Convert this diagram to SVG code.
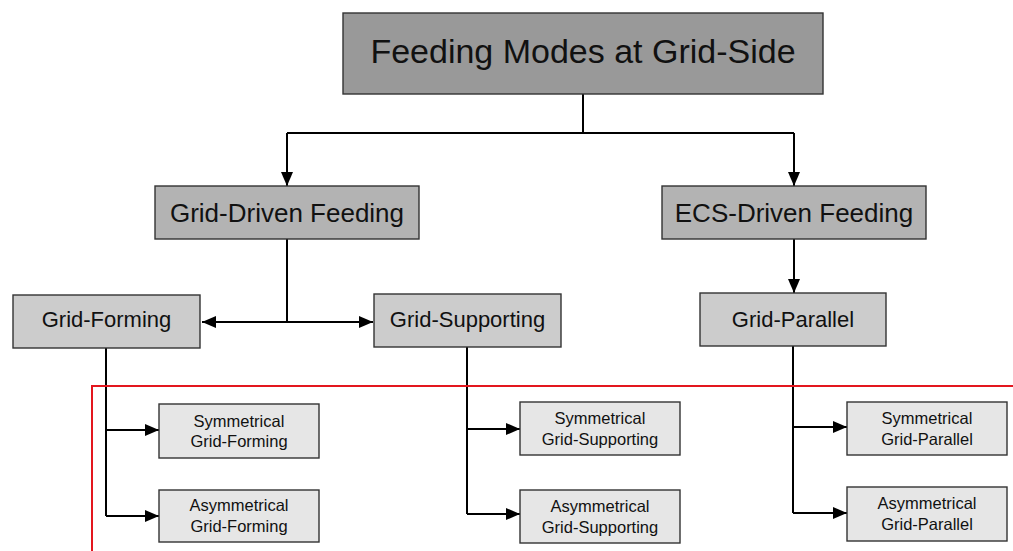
<svg xmlns="http://www.w3.org/2000/svg" width="1013" height="551" viewBox="0 0 1013 551">
<defs>
<style>
.box rect{stroke:#333;stroke-width:1.4}
.l0 rect{fill:#999999}
.l1 rect{fill:#b3b3b3}
.l2 rect{fill:#cccccc}
.l3 rect{fill:#e6e6e6}
text{font-family:"Liberation Sans",Arial,sans-serif;fill:#111;text-anchor:middle}
.t0{font-size:34px}
.t1{font-size:26px}
.t2{font-size:22px}
.t3{font-size:16.5px}
.c{fill:none;stroke:#000;stroke-width:2}
</style>
<marker id="ah" markerUnits="userSpaceOnUse" markerWidth="14" markerHeight="12" refX="14" refY="6" orient="auto">
<path d="M0,0 L14,6 L0,12 Z" fill="#000"/>
</marker>
<marker id="ahs" markerUnits="userSpaceOnUse" markerWidth="14" markerHeight="12" refX="0" refY="6" orient="auto">
<path d="M14,0 L0,6 L14,12 Z" fill="#000"/>
</marker>
</defs>
<rect width="1013" height="551" fill="#fff"/>
<g id="connectors">
<path class="c" d="M583,94 V133 M287,133 H794"/>
<path class="c" d="M287,133 V186" marker-end="url(#ah)"/>
<path class="c" d="M794,133 V186" marker-end="url(#ah)"/>
<path class="c" d="M287,239 V322"/>
<path class="c" d="M202,322 H373" marker-start="url(#ahs)" marker-end="url(#ah)"/>
<path class="c" d="M794,239 V293" marker-end="url(#ah)"/>
<path class="c" d="M106,348 V516"/>
<path class="c" d="M106,430 H159" marker-end="url(#ah)"/>
<path class="c" d="M106,516 H159" marker-end="url(#ah)"/>
<path class="c" d="M467,347 V514"/>
<path class="c" d="M467,429 H520" marker-end="url(#ah)"/>
<path class="c" d="M467,514 H520" marker-end="url(#ah)"/>
<path class="c" d="M793,346 V513"/>
<path class="c" d="M793,427 H847" marker-end="url(#ah)"/>
<path class="c" d="M793,513 H847" marker-end="url(#ah)"/>
</g>
<g id="redline">
<path d="M92,551 V386 H1013" fill="none" stroke="#e3161e" stroke-width="2"/>
</g>
<g id="root" class="box l0">
<rect x="343" y="13" width="480" height="81"/>
<text class="t0" x="583" y="63">Feeding Modes at Grid-Side</text>
</g>
<g id="grid-driven" class="box l1">
<rect x="155" y="186" width="264" height="53"/>
<text class="t1" x="287" y="222">Grid-Driven Feeding</text>
</g>
<g id="ecs-driven" class="box l1">
<rect x="662" y="186" width="264" height="53"/>
<text class="t1" x="794" y="222">ECS-Driven Feeding</text>
</g>
<g id="grid-forming" class="box l2">
<rect x="13" y="295" width="187" height="53"/>
<text class="t2" x="106.5" y="327">Grid-Forming</text>
</g>
<g id="grid-supporting" class="box l2">
<rect x="374" y="294" width="187" height="53"/>
<text class="t2" x="467.5" y="327">Grid-Supporting</text>
</g>
<g id="grid-parallel" class="box l2">
<rect x="700" y="293" width="186" height="53"/>
<text class="t2" x="793" y="327">Grid-Parallel</text>
</g>
<g id="sym-gf" class="box l3">
<rect x="159" y="404" width="160" height="54"/>
<text class="t3" x="239" y="426.5">Symmetrical</text>
<text class="t3" x="239" y="447">Grid-Forming</text>
</g>
<g id="asym-gf" class="box l3">
<rect x="159" y="490" width="160" height="52"/>
<text class="t3" x="239" y="511">Asymmetrical</text>
<text class="t3" x="239" y="532">Grid-Forming</text>
</g>
<g id="sym-gs" class="box l3">
<rect x="520" y="402" width="160" height="53"/>
<text class="t3" x="600" y="424">Symmetrical</text>
<text class="t3" x="600" y="445">Grid-Supporting</text>
</g>
<g id="asym-gs" class="box l3">
<rect x="520" y="490" width="160" height="53"/>
<text class="t3" x="600" y="511.5">Asymmetrical</text>
<text class="t3" x="600" y="532.5">Grid-Supporting</text>
</g>
<g id="sym-gp" class="box l3">
<rect x="847" y="402" width="160" height="53"/>
<text class="t3" x="927" y="424">Symmetrical</text>
<text class="t3" x="927" y="445">Grid-Parallel</text>
</g>
<g id="asym-gp" class="box l3">
<rect x="847" y="487" width="160" height="54"/>
<text class="t3" x="927" y="509">Asymmetrical</text>
<text class="t3" x="927" y="530">Grid-Parallel</text>
</g>
</svg>
